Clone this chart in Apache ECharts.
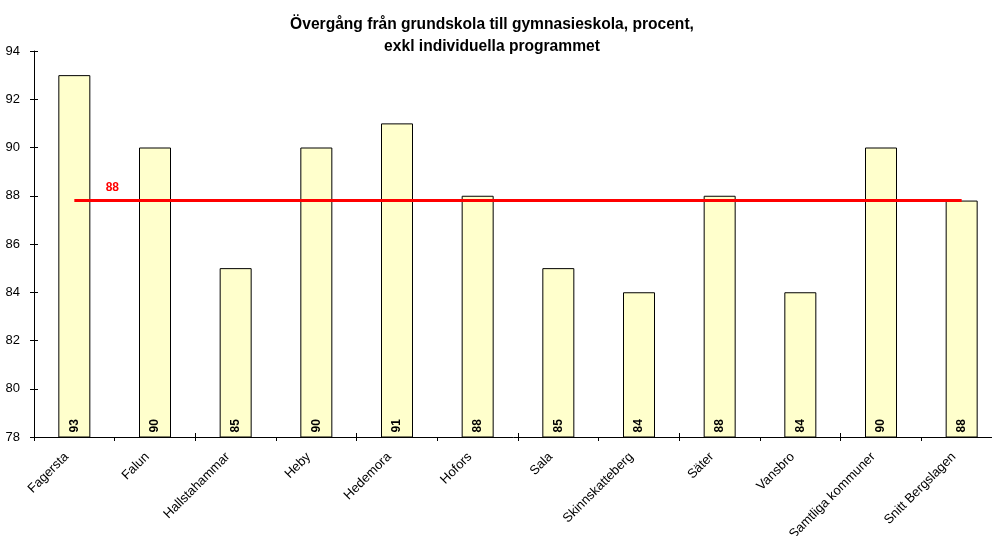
<!DOCTYPE html>
<html>
<head>
<meta charset="utf-8">
<script src="https://cdn.jsdelivr.net/npm/echarts@6/dist/echarts.min.js"></script>
<style>
    html, body { margin: 0; padding: 0; background: #fff; }
    #chart { width: 992px; height: 536px; }
</style>
</head>
<body>
<div id="chart"></div>
<script>
var kommuner = ['Fagersta', 'Falun', 'Hallstahammar', 'Heby', 'Hedemora', 'Hofors', 'Sala', 'Skinnskatteberg', 'Säter', 'Vansbro', 'Samtliga kommuner', 'Snitt Bergslagen'];
var procent = [93, 90, 85, 90, 91, 88, 85, 84, 88, 84, 90, 87.8];
var snitt = 87.8;
var yTicks = [78, 94, 2];

init();

/**
 * rita diagrammet
 */
function init() {
    let snittData = kommuner.map(function () { return snitt; });

    let option = {
        animation: false,
        textStyle: {
            fontFamily: 'Liberation Sans, Arial, sans-serif',
            color: '#000'
        },
        title: {
            text: 'Övergång från grundskola till gymnasieskola, procent,\nexkl individuella programmet',
            left: 487,
            textAlign: 'center',
            top: 9,
            textStyle: {
                fontSize: 15.6,
                fontWeight: 'bold',
                color: '#000',
                lineHeight: 22,
                fontFamily: 'Liberation Sans, Arial, sans-serif'
            }
        },
        grid: {
            top: 51,
            left: 34,
            width: 968,  // axeln går ut förbi bildens högerkant
            bottom: 99,
            containLabel: false,
            outerBoundsMode: 'none'
        },
        xAxis: [
            {
                type: 'category',
                data: kommuner,
                axisLine: {lineStyle: {color: '#000', width: 1}},
                axisTick: {show: true, length: 4, lineStyle: {color: '#000'}},
                axisLabel: {
                    interval: 0,
                    rotate: 45,
                    margin: 10,
                    padding: [0, 11, 0, 0],
                    fontSize: 13,
                    color: '#000'
                }
            },
            {
                // ticks som går in i ritytan
                type: 'category',
                data: kommuner,
                position: 'bottom',
                axisLine: {show: false},
                axisTick: {show: true, inside: true, length: 4, lineStyle: {color: '#000'}},
                axisLabel: {show: false}
            }
        ],
        yAxis: [
            {
                type: 'value',
                min: yTicks[0],
                max: yTicks[1],
                interval: yTicks[2],
                axisLine: {show: true, lineStyle: {color: '#000'}},
                axisTick: {show: true, length: 4, lineStyle: {color: '#000'}},
                splitLine: {show: false},
                axisLabel: {fontSize: 13, color: '#000', margin: 14}
            },
            {
                type: 'value',
                min: yTicks[0],
                max: yTicks[1],
                interval: yTicks[2],
                position: 'left',
                axisLine: {show: false},
                axisTick: {show: true, inside: true, length: 4, lineStyle: {color: '#000'}},
                splitLine: {show: false},
                axisLabel: {show: false}
            }
        ],
        series: [
            {
                name: 'Procent',
                type: 'bar',
                barWidth: 32,
                data: procent,
                itemStyle: {
                    color: '#FFFFCC',
                    borderColor: '#000',
                    borderWidth: 1
                },
                label: {
                    show: true,
                    position: 'insideBottom',
                    rotate: 90,
                    align: 'left',
                    verticalAlign: 'middle',
                    distance: 5,
                    fontSize: 12,
                    fontWeight: 'bold',
                    color: '#000',
                    formatter: function (p) {
                        return Math.round(p.value);
                    }
                }
            },
            {
                name: 'Snitt',
                type: 'line',
                data: snittData,
                symbol: 'none',
                lineStyle: {color: '#FF0000', width: 3},
                z: 5,
                label: {show: false},
                markPoint: {
                    symbol: 'circle',
                    symbolSize: 0,
                    data: [{coord: [0, snitt], value: Math.round(snitt)}],
                    label: {
                        show: true,
                        color: '#FF0000',
                        fontWeight: 'bold',
                        fontSize: 12,
                        offset: [38, -13],
                        formatter: '{c}'
                    }
                }
            }
        ]
    };

    let chart = echarts.init(document.getElementById('chart'));
    chart.setOption(option);
}
</script>
</body>
</html>
